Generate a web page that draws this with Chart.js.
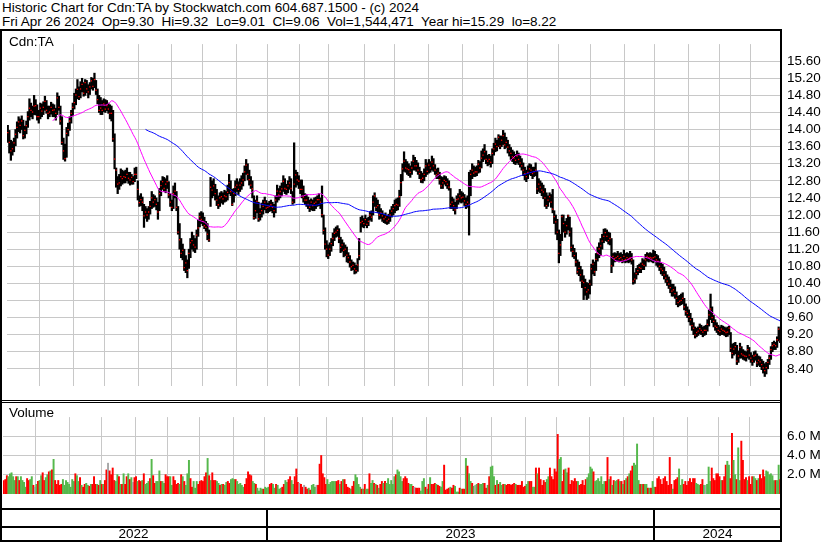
<!DOCTYPE html>
<html>
<head>
<meta charset="utf-8">
<script src="https://cdn.jsdelivr.net/npm/chart.js@4.4.1/dist/chart.umd.min.js"></script>
<style>
  body { margin: 0; width: 830px; height: 543px; position: relative; overflow: hidden; background: #fff;
         font-family: "Liberation Sans", Arial, sans-serif; color: #000; }
  canvas { position: absolute; }
  #priceCanvas { left: 3px; top: 30px; }
  #volCanvas { left: 3px; top: 403px; }
  .ln { position: absolute; background: #000; }
  .txt { position: absolute; font-size: 13.5px; line-height: 14px; white-space: pre; }
</style>
</head>
<body>
<canvas id="priceCanvas" width="827" height="370"></canvas>
<canvas id="volCanvas" width="827" height="105"></canvas>

<div class="txt" style="left:2px;top:1px">Historic Chart for Cdn:TA by Stockwatch.com 604.687.1500 - (c) 2024
Fri Apr 26 2024  Op=9.30  Hi=9.32  Lo=9.01  Cl=9.06  Vol=1,544,471  Year hi=15.29  lo=8.22</div>
<div class="txt" style="left:9px;top:35px">Cdn:TA</div>
<div class="txt" style="left:9px;top:406px">Volume</div>

<!-- frame -->
<div class="ln" style="left:0;top:29px;width:782px;height:2px"></div>
<div class="ln" style="left:0;top:29px;width:2px;height:513px"></div>
<div class="ln" style="left:780px;top:29px;width:2px;height:513px"></div>
<div class="ln" style="left:0;top:400px;width:782px;height:1px"></div>
<div class="ln" style="left:0;top:402px;width:782px;height:1px"></div>
<div class="ln" style="left:0;top:508px;width:782px;height:2px"></div>
<div class="ln" style="left:0;top:526px;width:782px;height:2px"></div>
<div class="ln" style="left:0;top:540px;width:782px;height:2px"></div>

<script>
// daily bars, May 2 2022 .. Apr 26 2024
const closes = [
  13.93, 13.70, 13.50, 13.55, 13.69, 13.89, 14.05, 14.18, 14.10, 14.20,
  13.86, 13.98, 14.09, 14.30, 14.50, 14.45, 14.41, 14.55, 14.56, 14.30,
  14.30, 14.50, 14.43, 14.52, 14.66, 14.45, 14.38, 14.41, 14.52, 14.45,
  14.46, 14.38, 14.74, 14.52, 14.20, 13.70, 13.50, 13.32, 13.91, 14.00,
  14.20, 14.38, 14.52, 14.63, 14.81, 14.94, 14.77, 14.95, 15.06, 14.85,
  15.10, 14.95, 14.88, 15.00, 15.14, 15.01, 15.17, 14.92, 14.70, 14.45,
  14.50, 14.45, 14.60, 14.48, 14.56, 14.48, 14.38, 14.38, 13.78, 13.31,
  13.05, 12.72, 12.75, 12.90, 12.85, 12.90, 12.88, 12.95, 12.86, 12.82,
  12.88, 12.78, 12.95, 12.95, 12.60, 12.29, 12.36, 12.30, 11.98, 12.07,
  12.00, 12.07, 12.20, 12.40, 12.30, 12.36, 12.25, 12.07, 12.50, 12.69,
  12.78, 12.62, 12.72, 12.78, 12.47, 12.30, 12.18, 12.50, 12.56, 12.18,
  11.60, 11.42, 11.10, 11.17, 10.77, 10.88, 10.70, 11.10, 11.35, 11.40,
  11.30, 11.25, 11.53, 11.70, 11.96, 11.90, 11.85, 11.75, 11.71, 11.55,
  11.42, 12.65, 12.58, 12.68, 12.50, 12.35, 12.24, 12.40, 12.43, 12.38,
  12.45, 12.43, 12.53, 12.76, 12.55, 12.25, 12.50, 12.65, 12.70, 12.60,
  12.70, 12.75, 12.82, 13.01, 13.17, 12.95, 12.83, 12.70, 12.61, 11.94,
  12.10, 12.32, 11.91, 12.04, 12.10, 12.20, 12.30, 12.16, 12.18, 12.20,
  12.24, 12.18, 12.10, 12.35, 12.56, 12.47, 12.55, 12.61, 12.79, 12.62,
  12.60, 12.68, 12.75, 12.62, 12.30, 12.72, 12.94, 12.82, 12.79, 12.60,
  12.60, 12.42, 12.35, 12.35, 12.25, 12.18, 12.30, 12.22, 12.27, 12.30,
  12.36, 12.36, 12.30, 12.01, 11.64, 11.32, 11.20, 11.06, 11.20, 11.33,
  11.45, 11.57, 11.60, 11.64, 11.45, 11.24, 11.30, 11.17, 11.20, 11.06,
  11.00, 10.90, 10.79, 10.82, 10.74, 10.70, 10.83, 11.05, 11.82, 11.85,
  11.80, 11.89, 11.78, 11.85, 12.00, 11.95, 12.30, 12.45, 12.18, 12.22,
  12.00, 12.05, 11.98, 11.91, 11.95, 11.86, 11.90, 12.00, 12.09, 12.15,
  12.22, 12.25, 12.23, 12.43, 12.76, 13.08, 13.26, 13.10, 13.08, 13.06,
  13.00, 13.10, 13.26, 13.15, 13.15, 13.05, 12.97, 12.83, 12.86, 12.95,
  13.15, 13.02, 13.17, 13.10, 13.24, 13.15, 13.05, 12.94, 12.98, 12.83,
  12.68, 12.75, 12.81, 12.78, 12.72, 12.65, 12.25, 12.30, 12.22, 12.12,
  12.36, 12.38, 12.45, 12.40, 12.42, 12.33, 12.25, 12.30, 12.25, 12.95,
  13.05, 12.98, 13.01, 13.01, 13.19, 13.10, 13.33, 13.40, 13.48, 13.30,
  13.26, 13.30, 13.23, 13.44, 13.55, 13.66, 13.60, 13.82, 13.62, 13.75,
  13.86, 13.64, 13.70, 13.59, 13.50, 13.44, 13.36, 13.33, 13.28, 13.38,
  13.30, 13.22, 13.15, 13.05, 12.97, 12.90, 13.00, 13.08, 13.05, 12.97,
  13.01, 13.05, 12.61, 12.72, 12.65, 12.58, 12.54, 12.40, 12.22, 12.35,
  12.43, 12.30, 12.14, 11.96, 11.84, 11.60, 11.10, 11.30, 11.96, 11.80,
  11.60, 11.75, 11.98, 11.60, 11.24, 11.15, 11.05, 10.90, 10.67, 10.75,
  10.60, 10.45, 10.42, 10.30, 10.20, 10.25, 10.38, 10.74, 10.85, 10.67,
  10.96, 11.10, 11.21, 11.28, 11.39, 11.50, 11.59, 11.50, 11.40, 11.45,
  10.81, 11.03, 10.98, 11.00, 11.03, 10.98, 11.00, 10.95, 11.03, 10.96,
  11.00, 10.97, 11.00, 10.95, 10.45, 10.50, 10.63, 10.70, 10.77, 10.75,
  10.85, 10.82, 10.95, 11.03, 11.00, 11.01, 10.99, 11.00, 11.02, 10.95,
  10.92, 10.80, 10.74, 10.70, 10.60, 10.52, 10.45, 10.38, 10.30, 10.22,
  10.25, 10.16, 10.05, 9.95, 9.98, 10.00, 10.05, 9.85, 9.74, 9.70,
  9.62, 9.55, 9.41, 9.35, 9.19, 9.25, 9.28, 9.34, 9.30, 9.26,
  9.30, 9.30, 9.44, 9.66, 9.80, 9.60, 9.51, 9.40, 9.37, 9.30,
  9.27, 9.33, 9.30, 9.28, 9.25, 9.26, 9.35, 8.88, 8.76, 8.86,
  8.92, 8.58, 8.70, 8.90, 8.75, 8.72, 8.70, 8.69, 8.85, 8.72,
  8.65, 8.58, 8.70, 8.72, 8.54, 8.60, 8.56, 8.50, 8.42, 8.36,
  8.43, 8.55, 8.65, 8.85, 8.94, 8.97, 8.94, 9.08, 9.33, 9.06
];

const highs = [
  14.10, 13.98, 13.75, 13.72, 13.80, 14.00, 14.18, 14.30, 14.25, 14.32,
  14.22, 14.08, 14.20, 14.42, 14.72, 14.62, 14.55, 14.80, 14.70, 14.58,
  14.45, 14.62, 14.60, 14.65, 14.78, 14.68, 14.55, 14.55, 14.64, 14.60,
  14.58, 14.50, 14.86, 14.78, 14.55, 14.30, 13.80, 13.66, 14.05, 14.15,
  14.30, 14.45, 14.62, 14.85, 14.95, 15.17, 15.00, 15.12, 15.20, 15.10,
  15.17, 15.15, 15.05, 15.10, 15.22, 15.20, 15.32, 15.15, 14.95, 14.80,
  14.75, 14.68, 14.72, 14.70, 14.68, 14.62, 14.58, 14.55, 14.45, 13.90,
  13.10, 12.90, 12.95, 13.08, 13.05, 13.02, 13.05, 13.10, 13.00, 13.00,
  12.95, 12.90, 13.10, 13.12, 12.80, 12.45, 12.50, 12.42, 12.25, 12.20,
  12.15, 12.20, 12.32, 12.55, 12.48, 12.45, 12.40, 12.30, 12.62, 12.80,
  12.90, 12.88, 12.85, 12.92, 12.78, 12.50, 12.35, 12.68, 12.75, 12.55,
  12.20, 11.80, 11.45, 11.32, 11.20, 11.05, 10.95, 11.20, 11.45, 11.60,
  11.52, 11.45, 11.65, 11.88, 12.05, 12.08, 12.05, 11.95, 11.85, 11.80,
  11.65, 12.88, 12.80, 12.85, 12.72, 12.60, 12.45, 12.52, 12.55, 12.52,
  12.58, 12.55, 12.70, 12.95, 12.80, 12.60, 12.62, 12.80, 12.85, 12.78,
  12.85, 12.92, 12.98, 13.15, 13.30, 13.20, 13.05, 12.90, 12.80, 12.45,
  12.35, 12.45, 12.30, 12.15, 12.28, 12.35, 12.42, 12.34, 12.28, 12.32,
  12.35, 12.30, 12.25, 12.45, 12.70, 12.62, 12.68, 12.75, 12.92, 12.85,
  12.72, 12.80, 12.90, 12.85, 12.55, 13.69, 13.05, 13.00, 12.92, 12.82,
  12.82, 12.68, 12.50, 12.48, 12.42, 12.35, 12.38, 12.35, 12.40, 12.42,
  12.45, 12.50, 12.40, 12.68, 12.00, 11.70, 11.40, 11.30, 11.35, 11.45,
  11.58, 11.68, 11.72, 11.75, 11.68, 11.48, 11.42, 11.35, 11.30, 11.25,
  11.12, 11.05, 10.95, 10.90, 10.88, 10.82, 10.98, 11.45, 11.95, 11.98,
  11.92, 12.00, 11.92, 11.95, 12.08, 12.10, 12.45, 12.52, 12.40, 12.35,
  12.25, 12.15, 12.10, 12.02, 12.05, 11.98, 12.02, 12.12, 12.20, 12.25,
  12.35, 12.38, 12.40, 12.58, 12.95, 13.20, 13.48, 13.30, 13.25, 13.20,
  13.15, 13.25, 13.40, 13.35, 13.28, 13.22, 13.12, 13.02, 12.98, 13.08,
  13.30, 13.22, 13.30, 13.25, 13.38, 13.32, 13.18, 13.08, 13.10, 13.00,
  12.90, 12.88, 12.92, 12.90, 12.85, 12.80, 12.62, 12.42, 12.38, 12.30,
  12.45, 12.50, 12.60, 12.55, 12.52, 12.48, 12.40, 12.45, 13.00, 13.05,
  13.20, 13.15, 13.12, 13.15, 13.28, 13.25, 13.50, 13.55, 13.65, 13.50,
  13.40, 13.42, 13.38, 13.55, 13.68, 13.80, 13.75, 13.88, 13.85, 13.85,
  13.98, 13.92, 13.82, 13.75, 13.65, 13.58, 13.52, 13.48, 13.42, 13.50,
  13.45, 13.38, 13.32, 13.22, 13.12, 13.05, 13.15, 13.20, 13.18, 13.12,
  13.12, 13.22, 13.02, 12.85, 12.80, 12.75, 12.70, 12.62, 12.52, 12.45,
  12.52, 12.48, 12.60, 12.10, 12.00, 11.90, 11.65, 11.55, 12.00, 12.00,
  11.85, 11.92, 12.00, 11.95, 11.70, 11.30, 11.22, 11.12, 10.95, 10.90,
  10.80, 10.72, 10.58, 10.50, 10.42, 10.40, 10.48, 10.85, 10.95, 10.90,
  11.10, 11.25, 11.35, 11.45, 11.55, 11.67, 11.68, 11.65, 11.60, 11.58,
  11.45, 11.10, 11.12, 11.10, 11.15, 11.10, 11.12, 11.08, 11.18, 11.10,
  11.12, 11.10, 11.15, 11.10, 10.95, 10.65, 10.75, 10.82, 10.85, 10.88,
  10.98, 10.95, 11.08, 11.12, 11.10, 11.12, 11.10, 11.18, 11.15, 11.08,
  11.05, 10.98, 10.88, 10.85, 10.78, 10.68, 10.60, 10.55, 10.48, 10.38,
  10.38, 10.32, 10.20, 10.10, 10.12, 10.15, 10.18, 10.05, 9.92, 9.85,
  9.78, 9.70, 9.58, 9.48, 9.38, 9.35, 9.38, 9.45, 9.42, 9.38,
  9.40, 9.42, 9.55, 9.78, 10.15, 9.85, 9.65, 9.55, 9.48, 9.42,
  9.38, 9.42, 9.40, 9.38, 9.36, 9.38, 9.40, 9.25, 8.98, 9.00,
  9.02, 8.95, 8.82, 9.00, 8.92, 8.85, 8.82, 8.80, 8.95, 8.90,
  8.78, 8.72, 8.80, 8.82, 8.75, 8.70, 8.68, 8.62, 8.58, 8.52,
  8.55, 8.62, 8.72, 8.92, 9.02, 9.05, 9.02, 9.15, 9.38, 9.32
];

const lows = [
  13.70, 13.45, 13.28, 13.40, 13.48, 13.62, 13.80, 13.95, 13.92, 14.00,
  13.78, 13.80, 13.90, 14.05, 14.22, 14.30, 14.25, 14.35, 14.34, 14.22,
  14.15, 14.25, 14.30, 14.35, 14.45, 14.38, 14.25, 14.30, 14.36, 14.30,
  14.30, 14.22, 14.35, 14.45, 14.12, 13.65, 13.30, 13.26, 13.35, 13.85,
  13.98, 14.15, 14.32, 14.48, 14.58, 14.72, 14.70, 14.74, 14.88, 14.78,
  14.80, 14.86, 14.74, 14.82, 14.95, 14.92, 14.98, 14.82, 14.60, 14.40,
  14.35, 14.35, 14.42, 14.40, 14.44, 14.38, 14.25, 14.20, 13.72, 13.08,
  12.65, 12.50, 12.60, 12.68, 12.72, 12.75, 12.75, 12.80, 12.74, 12.70,
  12.72, 12.72, 12.78, 12.85, 12.35, 12.20, 12.22, 12.10, 11.71, 11.92,
  11.85, 11.90, 12.02, 12.15, 12.18, 12.20, 12.12, 11.90, 12.10, 12.45,
  12.60, 12.55, 12.52, 12.62, 12.40, 12.20, 12.10, 12.15, 12.40, 12.10,
  11.55, 11.20, 11.00, 10.95, 10.70, 10.65, 10.53, 10.75, 11.00, 11.20,
  11.15, 11.12, 11.20, 11.50, 11.72, 11.80, 11.75, 11.68, 11.62, 11.42,
  11.38, 12.20, 12.40, 12.45, 12.35, 12.22, 12.15, 12.20, 12.28, 12.25,
  12.30, 12.32, 12.35, 12.50, 12.45, 12.22, 12.30, 12.45, 12.55, 12.48,
  12.55, 12.60, 12.68, 12.80, 12.95, 12.82, 12.70, 12.62, 12.40, 11.90,
  11.92, 12.05, 11.85, 11.88, 11.95, 12.02, 12.12, 12.05, 12.05, 12.08,
  12.10, 12.05, 11.95, 12.05, 12.30, 12.35, 12.40, 12.45, 12.55, 12.50,
  12.48, 12.52, 12.60, 12.50, 12.25, 12.28, 12.65, 12.70, 12.62, 12.50,
  12.40, 12.30, 12.25, 12.20, 12.15, 12.08, 12.12, 12.10, 12.10, 12.15,
  12.20, 12.22, 12.15, 11.95, 11.55, 11.20, 11.02, 10.98, 11.05, 11.15,
  11.28, 11.40, 11.48, 11.50, 11.35, 11.12, 11.15, 11.02, 11.05, 10.90,
  10.88, 10.78, 10.70, 10.72, 10.62, 10.64, 10.68, 10.95, 11.60, 11.72,
  11.70, 11.75, 11.70, 11.75, 11.88, 11.85, 12.00, 12.20, 12.10, 12.05,
  11.90, 11.92, 11.85, 11.82, 11.80, 11.78, 11.80, 11.85, 11.95, 12.00,
  12.05, 12.10, 12.12, 12.20, 12.45, 12.80, 13.02, 13.00, 12.95, 12.92,
  12.88, 12.95, 13.05, 13.05, 13.02, 12.95, 12.85, 12.76, 12.75, 12.80,
  12.90, 12.95, 12.98, 13.00, 13.05, 13.02, 12.95, 12.85, 12.85, 12.72,
  12.62, 12.62, 12.72, 12.68, 12.62, 12.58, 12.15, 12.15, 12.10, 12.02,
  12.15, 12.25, 12.30, 12.28, 12.30, 12.22, 12.15, 12.18, 11.53, 12.45,
  12.85, 12.90, 12.90, 12.92, 12.98, 13.00, 13.10, 13.25, 13.30, 13.20,
  13.15, 13.18, 13.12, 13.20, 13.40, 13.48, 13.50, 13.60, 13.55, 13.60,
  13.65, 13.55, 13.58, 13.45, 13.38, 13.30, 13.25, 13.20, 13.18, 13.22,
  13.18, 13.12, 13.05, 12.92, 12.82, 12.78, 12.85, 12.95, 12.92, 12.85,
  12.90, 12.92, 12.50, 12.55, 12.52, 12.45, 12.38, 12.20, 12.15, 12.20,
  12.30, 12.18, 12.05, 11.80, 11.55, 11.42, 10.88, 11.05, 11.40, 11.60,
  11.48, 11.55, 11.65, 11.50, 11.15, 11.02, 10.98, 10.80, 10.62, 10.58,
  10.45, 10.30, 10.02, 10.12, 10.02, 10.05, 10.15, 10.35, 10.62, 10.58,
  10.70, 10.92, 11.00, 11.05, 11.20, 11.35, 11.40, 11.38, 11.32, 11.30,
  10.65, 10.80, 10.90, 10.92, 10.92, 10.90, 10.92, 10.88, 10.90, 10.88,
  10.90, 10.88, 10.90, 10.85, 10.38, 10.40, 10.50, 10.60, 10.65, 10.65,
  10.72, 10.72, 10.80, 10.92, 10.90, 10.92, 10.90, 10.88, 10.92, 10.82,
  10.78, 10.70, 10.62, 10.58, 10.50, 10.42, 10.35, 10.28, 10.18, 10.10,
  10.10, 10.05, 9.90, 9.85, 9.88, 9.90, 9.92, 9.78, 9.65, 9.60,
  9.50, 9.42, 9.30, 9.20, 9.12, 9.15, 9.18, 9.22, 9.20, 9.15,
  9.18, 9.20, 9.28, 9.40, 9.55, 9.48, 9.38, 9.30, 9.25, 9.20,
  9.18, 9.20, 9.20, 9.18, 9.15, 9.16, 9.20, 8.80, 8.65, 8.72,
  8.75, 8.50, 8.55, 8.65, 8.65, 8.62, 8.60, 8.58, 8.65, 8.62,
  8.55, 8.48, 8.55, 8.60, 8.45, 8.48, 8.45, 8.38, 8.30, 8.22,
  8.28, 8.40, 8.50, 8.62, 8.80, 8.85, 8.85, 8.90, 9.05, 9.01
];

// volume in millions of shares
const volumes = [
  1.4, 1.5, 1.9, 1.8, 2.1, 2.2, 1.8, 1.4, 1.8, 1.8, 1.4, 1.8, 1.4, 1.2,
  0.7, 1.6, 1.4, 1.5, 1.8, 0.9, 0.7, 1.0, 1.3, 1.4, 1.9, 2.2, 1.4, 1.7,
  2.0, 2.3, 2.4, 2.5, 3.6, 1.4, 1.0, 1.4, 0.9, 1.0, 1.5, 0.9, 1.4, 1.2,
  1.0, 0.7, 1.5, 1.3, 2.1, 1.9, 1.3, 1.7, 0.9, 0.7, 1.0, 1.1, 0.9, 0.8,
  1.0, 1.0, 1.8, 1.0, 1.0, 0.9, 1.4, 1.0, 1.0, 1.4, 2.5, 3.2, 2.4, 2.0,
  2.7, 1.4, 1.3, 2.0, 1.8, 1.0, 1.0, 2.1, 1.0, 1.8, 2.1, 1.5, 1.7, 1.2,
  1.7, 1.8, 1.3, 1.4, 1.3, 1.4, 2.1, 1.0, 1.1, 1.3, 1.6, 3.6, 1.9, 1.1,
  1.3, 1.3, 2.4, 1.3, 1.3, 1.1, 2.0, 1.8, 1.8, 1.8, 0.9, 1.8, 1.4, 1.0,
  1.1, 1.0, 2.0, 1.8, 1.3, 0.9, 2.1, 3.5, 1.6, 0.7, 1.3, 0.6, 1.3, 1.0,
  1.3, 1.4, 1.3, 1.8, 2.2, 3.7, 1.9, 1.4, 2.2, 1.4, 1.4, 1.3, 1.1, 0.9,
  1.0, 1.0, 0.9, 1.2, 1.3, 1.1, 1.5, 1.6, 1.5, 1.5, 1.3, 1.0, 1.1, 0.9,
  0.7, 1.0, 1.6, 2.3, 2.0, 1.9, 1.3, 1.1, 1.0, 0.6,
  0.3, 0.6, 0.5, 0.5,
  0.7, 0.6, 0.7, 1.0, 1.1, 1.0, 0.6, 1.0, 0.9, 0.5, 0.6, 0.7, 1.0, 1.4, 1.2,
  1.5, 1.8, 1.4, 1.0, 1.8, 2.6, 1.2, 1.1, 1.0, 0.7, 0.9, 0.7, 0.5, 0.6,
  0.4, 0.9, 1.0, 0.7, 0.9, 0.9, 3.1, 4.0, 2.1, 1.7, 1.0, 1.5, 1.0, 1.2,
  1.3, 1.3, 1.3, 1.3, 1.4, 1.0, 1.3, 1.5, 1.5, 1.0, 0.7, 0.6, 0.5, 0.8,
  1.3, 2.0, 1.7, 1.0, 0.7, 0.5, 0.5, 1.0, 0.5, 0.5, 2.1, 1.1, 1.4, 1.1,
  1.0, 0.9, 0.6, 1.0, 1.3, 1.1, 1.3, 1.1, 1.6, 1.0, 1.4, 1.0, 1.8, 2.0,
  2.5, 2.3, 1.8, 1.3, 1.6, 1.8, 1.6, 1.1, 1.0, 1.0, 0.8,
  0.7, 0.6, 0.6, 0.6,
  0.3, 1.3, 1.6, 0.7, 0.5, 1.0, 1.7, 1.0, 1.0, 1.1, 1.0, 0.9, 0.8,
  0.7, 1.3, 3.0, 0.4, 0.5, 0.6, 0.7, 0.6, 0.9, 0.8, 0.2, 0.2, 0.6, 0.5,
  0.5, 0.5, 3.7, 2.9, 2.1, 1.3, 1.1, 0.8, 0.9, 1.0, 1.1, 1.0, 1.0,
  1.1, 1.1, 0.6, 0.9, 1.8, 2.8, 2.9, 1.8, 0.9, 1.4, 1.0, 1.2, 0.9, 1.0,
  1.0, 0.9, 1.0, 1.0, 0.9, 1.0, 1.1, 1.0, 0.9, 0.9, 0.9, 1.3, 0.7, 0.8,
  1.0, 1.3, 1.3, 1.3, 0.7, 0.7, 2.7, 2.1, 2.7, 1.5, 0.9, 1.4, 1.2,
  1.5, 1.8, 2.7, 1.8, 1.5, 2.6, 2.3, 6.2, 3.6, 3.8, 1.3, 2.5, 2.6, 2.2,
  2.7, 1.0, 1.4, 1.3, 1.6, 1.3, 1.3, 0.9, 1.0, 1.4, 0.9, 1.5, 1.7,
  2.1, 2.8, 2.6, 2.3, 1.3, 1.4, 1.6, 1.3, 1.8, 1.0, 1.3, 1.3, 3.8, 1.5,
  1.8, 0.9, 1.4, 1.3, 1.4, 1.5, 1.3, 1.3, 1.0, 1.4, 1.6, 1.8, 2.1, 2.4,
  2.9, 3.2, 3.0, 5.2, 1.4, 1.0, 1.0, 1.0, 1.0, 1.0, 0.6, 0.6, 0.6, 1.3,
  0.7, 0.7, 1.6, 1.8, 1.5, 1.0, 1.6, 1.8, 1.3, 0.9, 3.8, 1.0,
  0.5, 1.4, 1.5, 1.7, 2.6, 0.9, 1.5, 1.0, 1.3, 0.9, 1.3, 1.6, 1.2,
  1.6, 1.6, 1.1, 1.0, 0.9, 1.0, 1.5, 0.9, 0.9, 1.0, 2.8, 1.3, 2.7, 1.6,
  1.4, 2.1, 2.1, 1.8, 1.4, 1.4, 1.8, 3.0, 3.4, 3.0, 1.6, 6.3, 3.5, 2.0,
  1.5, 4.8, 1.4, 5.5, 3.5, 1.5, 1.7,
  1.4, 1.8, 1.0, 1.8, 1.8, 1.6, 1.4,
  1.6, 2.0, 1.6, 2.5, 1.8, 2.4, 2.3, 2.0, 2.1, 1.9,
  1.4, 1.4, 1.4, 3.0, 1.5
];

// index of first trading day of each month (grid lines)
const monthStarts = [21, 43, 63, 85, 106, 126, 148, 168, 189, 208, 231, 250,
                     272, 294, 314, 336, 356, 377, 399, 418, 440, 460, 480];
const yearStarts = [168, 418];
const yearLabels = ['2022', '2023', '2024'];
const priceTicks = [8.4, 8.8, 9.2, 9.6, 10.0, 10.4, 10.8, 11.2, 11.6, 12.0,
                    12.4, 12.8, 13.2, 13.6, 14.0, 14.4, 14.8, 15.2, 15.6];
const volumeTicks = [2, 4, 6];
const shortMA = 30;
const longMA = 90;

Chart.defaults.font.family = '"Liberation Sans", Arial, sans-serif';
Chart.defaults.font.size = 13.5;
Chart.defaults.color = '#000';
Chart.defaults.animation = false;

const N = closes.length;
const idx = closes.map((c, i) => i);
const gridColor = '#c8c8c8';

function movingAverage(n) {
  const out = [];
  let sum = 0;
  for (let i = 0; i < N; i++) {
    sum += closes[i];
    if (i >= n) sum -= closes[i - n];
    if (i >= n - 1) out.push({ x: i, y: sum / n });
  }
  return out;
}

function xAxis() {
  return {
    type: 'linear',
    min: -0.5,
    max: N - 0.5,
    offset: false,
    afterBuildTicks: s => { s.ticks = monthStarts.map(v => ({ value: v - 0.5 })); },
    ticks: { display: false },
    grid: { color: gridColor, drawTicks: false, offset: false },
    border: { display: false }
  };
}

function rightAxis(min, max, values, fmt) {
  return {
    position: 'right',
    min: min,
    max: max,
    afterBuildTicks: s => { s.ticks = values.map(v => ({ value: v })); },
    afterFit: s => { s.width = 49; },
    ticks: { padding: 6, autoSkip: false, callback: fmt },
    grid: { color: gridColor, drawTicks: false },
    border: { display: false }
  };
}

const common = {
  responsive: false,
  layout: { padding: 0 },
  plugins: { legend: { display: false }, tooltip: { enabled: false } },
  events: []
};

const priceChart = new Chart('priceCanvas', {
  type: 'bar',
  data: {
    datasets: [
      {
        type: 'line',
        data: movingAverage(longMA),
        borderColor: '#0000ff',
        borderWidth: 1,
        pointRadius: 0,
        order: 0
      },
      {
        type: 'line',
        data: movingAverage(shortMA),
        borderColor: '#ff00ff',
        borderWidth: 1,
        pointRadius: 0,
        order: 1
      },
      {
        type: 'line',
        data: idx.map(i => ({ x: i, y: closes[i] })),
        showLine: false,
        pointStyle: 'rect',
        pointRadius: 0.9,
        pointBorderWidth: 0,
        pointBackgroundColor: '#ff0000',
        order: 2
      },
      {
        type: 'bar',
        data: idx.map(i => ({ x: i, y: [lows[i], highs[i]] })),
        backgroundColor: '#000',
        barThickness: 1.6,
        order: 3
      }
    ]
  },
  options: {
    ...common,
    scales: {
      x: xAxis(),
      y: rightAxis(8, 16, priceTicks, v => v.toFixed(2))
    }
  }
});

const volColors = idx.map(i => {
  if (i === 0 || closes[i] < closes[i - 1]) return '#ff0000';
  if (closes[i] > closes[i - 1]) return '#55b84c';
  return '#a8a8a8';
});

new Chart('volCanvas', {
  type: 'bar',
  data: {
    datasets: [{
      data: idx.map(i => ({ x: i, y: volumes[i] })),
      backgroundColor: volColors,
      barThickness: 1.3
    }]
  },
  options: {
    ...common,
    scales: {
      x: xAxis(),
      y: rightAxis(0, 8, volumeTicks, v => v.toFixed(1) + ' M')
    }
  }
});

// year strip under the volume pane
const xs = priceChart.scales.x;
const edges = [0, ...yearStarts.map(s => xs.getPixelForValue(s - 0.5) + 3), 781];
yearStarts.forEach((s, k) => {
  const d = document.createElement('div');
  d.className = 'ln';
  d.style.cssText = `left:${Math.round(edges[k + 1]) - 1}px;top:510px;width:2px;height:31px`;
  document.body.appendChild(d);
});
yearLabels.forEach((t, k) => {
  const d = document.createElement('div');
  d.className = 'txt';
  d.textContent = t;
  d.style.cssText = `left:${edges[k]}px;width:${edges[k + 1] - edges[k]}px;top:527px;text-align:center`;
  document.body.appendChild(d);
});
</script>
</body>
</html>
